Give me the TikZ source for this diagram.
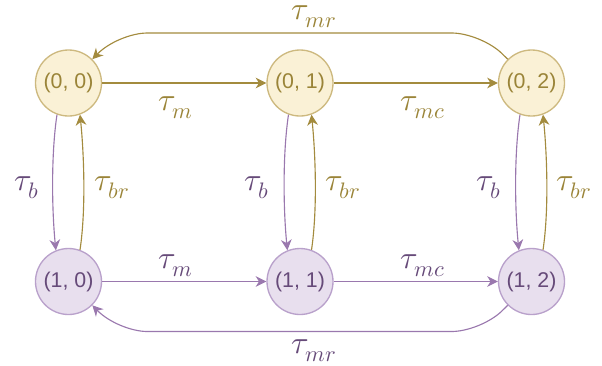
\documentclass[tikz,border=0pt]{standalone}
\usepackage{fontspec}
\usepackage{unicode-math}
\setmainfont{Liberation Sans}
\setmathfont{Latin Modern Math}
\usetikzlibrary{arrows.meta}
\definecolor{gfill}{HTML}{FAF1D6}
\definecolor{gline}{HTML}{CDB97F}
\definecolor{garrow}{HTML}{A38B3E}
\definecolor{gtext}{HTML}{9A8438}
\definecolor{pfill}{HTML}{E8DFEE}
\definecolor{pline}{HTML}{B9A1CB}
\definecolor{parrow}{HTML}{9A78AE}
\definecolor{ptext}{HTML}{664A79}
\tikzset{
  gstate/.style={circle, draw=gline, fill=gfill, line width=1pt, minimum size=49.5pt, inner sep=0pt, text=gtext, font=\fontsize{16}{18}\selectfont},
  pstate/.style={circle, draw=pline, fill=pfill, line width=1pt, minimum size=49.5pt, inner sep=0pt, text=ptext, font=\fontsize{16}{18}\selectfont},
  garr/.style={draw=garrow, line width=0.85pt, -{Stealth[length=8pt,width=8pt,inset=2.5pt]}},
  parr/.style={draw=parrow, line width=0.85pt, -{Stealth[length=8pt,width=8pt,inset=2.5pt]}},
  glab/.style={text=gtext, font=\fontsize{24}{26}\selectfont, inner sep=0pt},
  plab/.style={text=ptext, font=\fontsize{24}{26}\selectfont, inner sep=0pt},
}
\begin{document}
\begin{tikzpicture}[x=0.75pt,y=-0.75pt]
\useasboundingbox (0,0) rectangle (602,365);
% states
\node[gstate] (n00) at (68.5,83) {(0, 0)};
\node[gstate] (n01) at (300,83) {(0, 1)};
\node[gstate] (n02) at (531.5,83) {(0, 2)};
\node[pstate] (n10) at (68.5,281.5) {(1, 0)};
\node[pstate] (n11) at (300,281.5) {(1, 1)};
\node[pstate] (n12) at (531.5,281.5) {(1, 2)};
% horizontal
\draw[garr] (n00) -- (n01);
\draw[garr] (n01) -- (n02);
\draw[parr] (n10) -- (n11);
\draw[parr] (n11) -- (n12);
% return arcs
\draw[garr, rounded corners=22pt] (n02.135) -- (481,33) -- (118,33) -- (n00.45);
\draw[parr, rounded corners=22pt] (n12.225) -- (481,331.5) -- (118,331.5) -- (n10.-45);
% vertical
\foreach \a/\b in {n00/n10, n01/n11, n02/n12}{
  \draw[parr] (\a.-110) .. controls +(-6,40) and +(-4,-40) .. (\b.112);
  \draw[garr] (\b.70) .. controls +(6,-40) and +(4,40) .. (\a.-70);
}
% labels
\node[glab] (lmrt) at (314,17) {$\tau_{mr}$};
\node[glab] (lmt) at (176,108) {$\tau_{m}$};
\node[glab] (lmct) at (423,108) {$\tau_{mc}$};
\node[plab] (lb0) at (27,188) {$\tau_{b}$};
\node[glab] (lbr0) at (112,188) {$\tau_{br}$};
\node[plab] (lb1) at (257,188) {$\tau_{b}$};
\node[glab] (lbr1) at (343,188) {$\tau_{br}$};
\node[plab] (lb2) at (489,188) {$\tau_{b}$};
\node[glab] (lbr2) at (574,188) {$\tau_{br}$};
\node[plab] (lmb) at (176,266) {$\tau_{m}$};
\node[plab] (lmcb) at (423,266) {$\tau_{mc}$};
\node[plab] (lmrb) at (314,350.5) {$\tau_{mr}$};
\end{tikzpicture}
\end{document}
